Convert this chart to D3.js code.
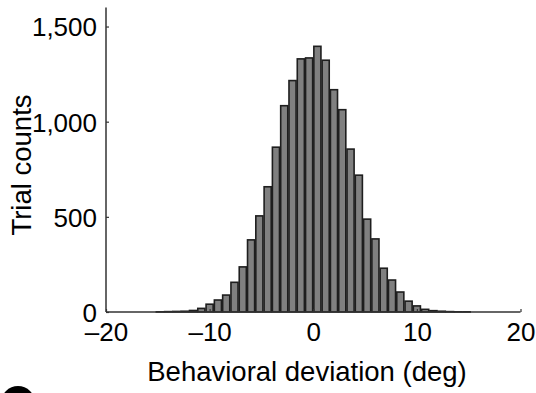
<!DOCTYPE html>
<html>
<head>
<meta charset="utf-8">
<script src="https://cdn.jsdelivr.net/npm/d3@7"></script>
<style>
  body { margin: 0; background: #fff; }
  text { font-family: "Liberation Sans", Arial, Helvetica, sans-serif; fill: #000; }
</style>
</head>
<body>
<script>
// bin edges every 0.8 deg, first bin starts at -15.2
var binStart = -15.2;
var binWidth = 0.8;
var counts = [1, 2, 3, 4, 8, 19, 41, 63, 89, 156, 237, 379, 505, 658, 866,
              1084, 1216, 1330, 1335, 1396, 1323, 1168, 1063, 856, 719, 488, 384,
              230, 168, 105, 57, 32, 14, 7, 4, 2, 1, 1];
var xTicks = [-20, -10, 0, 10, 20];
var yTicks = [0, 500, 1000, 1500];

var bins = counts.map(function (c, i) {
  return { x0: binStart + i * binWidth, x1: binStart + (i + 1) * binWidth, n: c };
});

var svg = d3.select("body")
            .append("svg")
            .attr("width", 536)
            .attr("height", 393);

var x = d3.scaleLinear().domain([-20, 20]).range([106, 520.5]);
var y = d3.scaleLinear().domain([0, 1600]).range([312, 7.5]);

// bars
svg.append("g")
   .selectAll("rect")
   .data(bins)
   .enter()
   .append("rect")
   .attr("x", function (d) { return x(d.x0) + 0.6; })
   .attr("width", function (d) { return x(d.x1) - x(d.x0) - 1.2; })
   .attr("y", function (d) { return y(d.n); })
   .attr("height", function (d) { return y(0) - y(d.n); })
   .attr("fill", "#808080")
   .attr("stroke", "#1e1e1e")
   .attr("stroke-width", 1.6);

// y axis
var yAxis = d3.axisLeft(y)
              .tickValues(yTicks)
              .tickSize(-3)
              .tickPadding(9)
              .tickFormat(d3.format(","));

var gy = svg.append("g")
   .attr("transform", "translate(106,0)")
   .call(yAxis);
gy.select(".domain").attr("d", "M0," + y(1600) + "V" + y(0)).attr("stroke", "#333").attr("stroke-width", 1.5);
gy.selectAll(".tick line").attr("stroke", "#333").attr("stroke-width", 1.2);
gy.selectAll(".tick text").attr("font-size", 26).attr("x", -9).attr("dy", "0.36em");

// x axis
var xAxis = d3.axisBottom(x)
              .tickValues(xTicks)
              .tickSize(-3)
              .tickPadding(9)
              .tickFormat(function (d) { return d < 0 ? "\u2013" + Math.abs(d) : d; });

var gx = svg.append("g")
   .attr("transform", "translate(0,312)")
   .call(xAxis);
gx.select(".domain").attr("d", "M" + x(-20) + ",0H" + x(20)).attr("stroke", "#333").attr("stroke-width", 1.5);
gx.selectAll(".tick line").attr("stroke", "#333").attr("stroke-width", 1.2);
gx.selectAll(".tick text").attr("font-size", 26).attr("y", 29).attr("dy", null);

// axis titles
svg.append("text")
   .attr("x", 307)
   .attr("y", 381)
   .attr("text-anchor", "middle")
   .attr("font-size", 27.5)
   .text("Behavioral deviation (deg)");

svg.append("text")
   .attr("transform", "translate(31,165) rotate(-90)")
   .attr("text-anchor", "middle")
   .attr("font-size", 27.5)
   .text("Trial counts");

// next panel label peeking in at the bottom edge
svg.append("circle")
   .attr("cx", 18)
   .attr("cy", 403)
   .attr("r", 17)
   .attr("fill", "#000");
</script>
</body>
</html>
